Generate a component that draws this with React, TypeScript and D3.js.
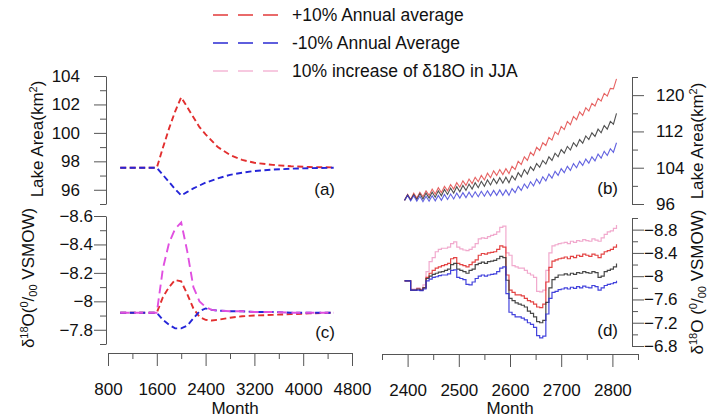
import React, { useEffect, useRef } from 'react';
import * as d3 from 'd3';

// (a) / (c): response to a perturbation, months 1000-4500
const aMonths = [1000, 1200, 1400, 1600, 1700, 1800, 1900, 2000, 2100, 2200, 2300, 2400, 2600, 2800, 3000, 3200, 3500, 3800, 4100, 4500];
const aPlus = [97.55, 97.55, 97.55, 97.55, 98.95, 100.3, 101.5, 102.5, 101.8, 101.1, 100.4, 99.9, 99.0, 98.45, 98.1, 97.9, 97.75, 97.65, 97.6, 97.57];
const aMinus = [97.55, 97.55, 97.55, 97.55, 97.05, 96.55, 96.05, 95.6, 95.85, 96.1, 96.3, 96.5, 96.8, 97.05, 97.2, 97.32, 97.42, 97.48, 97.52, 97.55];

const cMonths = [1000, 1200, 1400, 1600, 1700, 1800, 1900, 2000, 2100, 2200, 2300, 2400, 2500, 2600, 2800, 3000, 3200, 3500, 3800, 4100, 4500];
const cPlus = [-7.92, -7.92, -7.92, -7.92, -8.03, -8.10, -8.15, -8.14, -8.05, -7.95, -7.89, -7.87, -7.865, -7.87, -7.885, -7.895, -7.90, -7.905, -7.91, -7.915, -7.92];
const cMinus = [-7.92, -7.92, -7.92, -7.92, -7.87, -7.835, -7.81, -7.81, -7.83, -7.88, -7.93, -7.95, -7.94, -7.935, -7.93, -7.93, -7.925, -7.925, -7.92, -7.92, -7.92];
const cJJA = [-7.92, -7.92, -7.92, -7.92, -8.23, -8.41, -8.51, -8.555, -8.35, -8.10, -8.00, -7.96, -7.94, -7.935, -7.93, -7.93, -7.925, -7.925, -7.92, -7.92, -7.92];

// (b) / (d): one value every 6 months starting at month 2394
const rStart = 2394;
const rStep = 6;

const bPlus = [
  96.8, 98.1, 97.0, 98.4, 97.3, 98.6, 97.6, 98.9, 97.9, 99.3,
  98.2, 99.6, 98.5, 99.9, 98.9, 100.3, 99.3, 100.7, 99.7, 101.1,
  100.1, 101.5, 100.5, 101.9, 100.9, 102.3, 101.3, 102.8, 101.8, 103.3,
  102.3, 103.6, 102.5, 103.8, 102.7, 104.3, 103.6, 105.4, 104.7, 106.4,
  105.6, 107.4, 106.7, 108.5, 107.8, 109.5, 108.9, 110.7, 110.1, 111.9,
  111.3, 113.1, 112.4, 114.2, 113.5, 115.3, 114.6, 116.3, 115.5, 117.2,
  116.5, 118.2, 117.6, 119.3, 118.7, 120.4, 119.8, 121.5, 121.4, 123.6
];
const bBase = [
  96.8, 98.0, 96.9, 98.1, 97.0, 98.3, 97.1, 98.4, 97.3, 98.6,
  97.5, 98.9, 97.8, 99.2, 98.1, 99.5, 98.4, 99.8, 98.7, 100.1,
  99.0, 100.4, 99.3, 100.7, 99.6, 101.0, 99.9, 101.3, 100.2, 101.6,
  100.5, 101.8, 100.6, 101.9, 100.7, 102.2, 101.3, 102.9, 102.0, 103.6,
  102.6, 104.2, 103.4, 104.9, 104.1, 105.6, 104.8, 106.4, 105.6, 107.2,
  106.4, 108.0, 107.2, 108.7, 107.9, 109.5, 108.7, 110.2, 109.4, 111.0,
  110.2, 111.7, 110.9, 112.5, 111.7, 113.3, 112.5, 114.2, 113.6, 116.0
];
const bMinus = [
  96.8, 97.9, 96.7, 97.8, 96.6, 97.7, 96.5, 97.7, 96.6, 97.8,
  96.7, 97.9, 96.8, 98.1, 97.0, 98.2, 97.1, 98.4, 97.3, 98.5,
  97.4, 98.6, 97.5, 98.7, 97.6, 98.8, 97.7, 98.9, 97.8, 99.0,
  97.9, 99.1, 97.9, 99.1, 97.9, 99.4, 98.5, 99.9, 99.0, 100.4,
  99.5, 100.9, 100.0, 101.5, 100.5, 102.0, 101.1, 102.6, 101.7, 103.2,
  102.3, 103.8, 102.9, 104.3, 103.4, 104.9, 104.0, 105.4, 104.5, 105.9,
  105.0, 106.4, 105.5, 107.0, 106.1, 107.6, 106.7, 108.2, 107.4, 109.5
];

const dBase = [
  -7.92, -7.92, -7.76, -7.76, -7.78, -7.76, -7.80, -7.96, -8.00, -8.03,
  -8.05, -8.07, -8.08, -8.10, -8.12, -8.20, -8.22, -8.12, -8.10, -8.08,
  -8.05, -8.10, -8.12, -8.20, -8.22, -8.24, -8.22, -8.25, -8.26, -8.27,
  -8.30, -8.34, -8.32, -7.93, -7.62, -7.58, -7.54, -7.52, -7.50, -7.47,
  -7.40, -7.36, -7.30, -7.22, -7.20, -7.24, -7.55, -7.80, -7.94, -7.98,
  -8.02, -8.02, -8.04, -8.02, -8.05, -8.03, -8.06, -8.05, -8.08, -8.06,
  -8.05, -8.08, -8.06, -7.98, -8.00, -8.08, -8.10, -8.12, -8.16, -8.22
];
const dPlus = [
  -7.92, -7.92, -7.76, -7.76, -7.78, -7.76, -7.80, -7.98, -8.05, -8.10,
  -8.14, -8.16, -8.18, -8.20, -8.22, -8.30, -8.32, -8.22, -8.20, -8.18,
  -8.16, -8.20, -8.24, -8.28, -8.36, -8.39, -8.38, -8.40, -8.41, -8.42,
  -8.46, -8.52, -8.50, -8.02, -7.76, -7.72, -7.68, -7.68, -7.66, -7.62,
  -7.58, -7.56, -7.52, -7.47, -7.46, -7.52, -7.90, -8.15, -8.26, -8.28,
  -8.30, -8.31, -8.33, -8.30, -8.34, -8.32, -8.36, -8.34, -8.38, -8.36,
  -8.34, -8.38, -8.36, -8.32, -8.38, -8.42, -8.44, -8.46, -8.50, -8.55
];
const dJJA = [
  -7.92, -7.92, -7.78, -7.78, -7.80, -7.78, -7.85, -8.08, -8.25, -8.32,
  -8.42, -8.46, -8.48, -8.48, -8.50, -8.56, -8.59, -8.50, -8.47, -8.45,
  -8.44, -8.46, -8.50, -8.56, -8.64, -8.66, -8.65, -8.68, -8.70, -8.72,
  -8.76, -8.84, -8.86, -8.40, -8.36, -8.18, -8.16, -8.14, -8.14, -8.10,
  -8.05, -8.02, -7.98, -7.74, -7.73, -7.76, -8.10, -8.40, -8.52, -8.54,
  -8.56, -8.57, -8.58, -8.56, -8.60, -8.58, -8.61, -8.60, -8.63, -8.61,
  -8.60, -8.64, -8.62, -8.60, -8.66, -8.72, -8.76, -8.78, -8.82, -8.88
];
const dMinus = [
  -7.92, -7.92, -7.76, -7.76, -7.76, -7.75, -7.78, -7.92, -7.95, -7.98,
  -7.99, -8.01, -8.02, -8.02, -8.04, -8.10, -8.11, -7.98, -7.96, -7.94,
  -7.86, -7.85, -7.90, -7.96, -8.00, -8.02, -8.00, -8.02, -8.03, -8.04,
  -8.08, -8.14, -8.16, -7.70, -7.38, -7.34, -7.30, -7.30, -7.28, -7.25,
  -7.20, -7.17, -7.12, -6.98, -6.94, -6.97, -7.35, -7.62, -7.72, -7.74,
  -7.77, -7.78, -7.80, -7.78, -7.81, -7.79, -7.82, -7.80, -7.83, -7.81,
  -7.80, -7.84, -7.82, -7.76, -7.80, -7.84, -7.86, -7.87, -7.89, -7.92
];

// ticks
const aTicks = [96, 98, 100, 102, 104];
const aMinor = [95, 97, 99, 101, 103];
const cTicks = [-8.6, -8.4, -8.2, -8, -7.8];
const cMinor = [-8.5, -8.3, -8.1, -7.9, -7.7];
const bTicks = [96, 104, 112, 120];
const bMinor = [100, 108, 116, 124];
const dTicks = [-8.8, -8.4, -8, -7.6, -7.2, -6.8];
const dMinor = [-9, -8.6, -8.2, -7.8, -7.4, -7.0];
const xLeftTicks = [800, 1600, 2400, 3200, 4000, 4800];
const xLeftMinor = [1200, 2000, 2800, 3600, 4400];
const xRightTicks = [2400, 2500, 2600, 2700, 2800];
const xRightMinor = [2350, 2450, 2550, 2650, 2750, 2850];

const legendItems = [
  { label: '+10% Annual average', color: '#e23a3a' },
  { label: '-10% Annual Average', color: '#2a2ad2' },
  { label: '10% increase of \u03b418O in JJA', color: '#f5b8d6' }
];

const App = () => {
  const svgRef = useRef<SVGSVGElement>(null);

  useEffect(() => {
    const svg = d3.select(svgRef.current);
    svg.selectAll('*').remove();

    const font = "'Liberation Sans', Arial, sans-serif";
    const axisColor = '#555';
    const fs = 17;

    // scales
    const xL = d3.scaleLinear().domain([800, 4800]).range([108, 352]);
    const xR = d3.scaleLinear().domain([2350, 2850]).range([382, 638]);
    const yA = d3.scaleLinear().domain([95, 104]).range([204, 76]);
    const yC = d3.scaleLinear().domain([-8.6, -7.7]).range([216, 344]);
    const yB = d3.scaleLinear().domain([96, 124]).range([204, 77]);
    const yD = d3.scaleLinear().domain([-9, -6.8]).range([218, 346]);

    const fmt = (d: any) => String(d).replace('-', '\u2212');

    const styleAxis = (g: any) => {
      g.attr('font-family', null).attr('font-size', null);
      g.select('.domain').attr('stroke', axisColor);
      g.selectAll('.tick line').attr('stroke', axisColor);
      g.selectAll('.tick text')
        .attr('fill', '#111')
        .style('font-size', fs + 'px')
        .style('font-family', font);
    };

    const addAxis = (axis: any, minorAxis: any, tx: number, ty: number) => {
      const g = svg.append('g').attr('transform', `translate(${tx},${ty})`).call(axis);
      styleAxis(g);
      const m = svg.append('g').attr('transform', `translate(${tx},${ty})`).call(minorAxis);
      m.select('.domain').remove();
      m.selectAll('.tick line').attr('stroke', axisColor);
    };

    // y axes
    addAxis(
      d3.axisLeft(yA).tickValues(aTicks).tickSize(12).tickSizeOuter(0).tickPadding(14).tickFormat(fmt),
      d3.axisLeft(yA).tickValues(aMinor).tickSize(6).tickFormat(() => ''),
      106, 0
    );
    addAxis(
      d3.axisLeft(yC).tickValues(cTicks).tickSize(12).tickSizeOuter(0).tickPadding(1).tickFormat(fmt),
      d3.axisLeft(yC).tickValues(cMinor).tickSize(6).tickFormat(() => ''),
      106, 0
    );
    addAxis(
      d3.axisRight(yB).tickValues(bTicks).tickSize(12).tickSizeOuter(0).tickPadding(12).tickFormat(fmt),
      d3.axisRight(yB).tickValues(bMinor).tickSize(6).tickFormat(() => ''),
      632, 0
    );
    addAxis(
      d3.axisRight(yD).tickValues(dTicks).tickSize(12).tickSizeOuter(0).tickPadding(0).tickFormat(fmt),
      d3.axisRight(yD).tickValues(dMinor).tickSize(6).tickFormat(() => ''),
      632, 0
    );

    // x axes
    addAxis(
      d3.axisBottom(xL).tickValues(xLeftTicks).tickSize(13).tickSizeOuter(0).tickPadding(17).tickFormat(fmt),
      d3.axisBottom(xL).tickValues(xLeftMinor).tickSize(6).tickFormat(() => ''),
      0, 353
    );
    addAxis(
      d3.axisBottom(xR).tickValues(xRightTicks).tickSize(13).tickSizeOuter(0).tickPadding(17).tickFormat(fmt),
      d3.axisBottom(xR).tickValues(xRightMinor).tickSize(6).tickFormat(() => ''),
      0, 354
    );

    const drawLine = (
      xs: number[], ys: number[], x: any, y: any,
      color: string, width: number, dash: string | null, curve: any = d3.curveLinear, opacity = 1
    ) => {
      const pts = ys.map((v, i) => [xs[i], v] as [number, number]);
      const line = d3.line<[number, number]>().x(d => x(d[0])).y(d => y(d[1])).curve(curve);
      svg.append('path')
        .attr('d', line(pts))
        .attr('fill', 'none')
        .attr('stroke', color)
        .attr('stroke-width', width)
        .attr('stroke-dasharray', dash)
        .attr('stroke-opacity', opacity);
    };

    // (a)
    drawLine(aMonths, aPlus, xL, yA, '#e22f2f', 1.9, '6,3.5');
    drawLine(aMonths, aMinus, xL, yA, '#2525d8', 1.9, '6,3.5');

    // (c)
    drawLine(cMonths, cPlus, xL, yC, '#e22f2f', 1.9, '6,3.5');
    drawLine(cMonths, cMinus, xL, yC, '#2525d8', 1.9, '6,3.5');
    drawLine(cMonths, cJJA, xL, yC, '#e050e0', 1.9, '9,5');

    // (b)
    const rMonths = bBase.map((_, i) => rStart + i * rStep);
    drawLine(rMonths, bPlus, xR, yB, '#e24848', 1.1, null, d3.curveLinear, 0.85);
    drawLine(rMonths, bBase, xR, yB, '#333333', 1.1, null, d3.curveLinear, 0.85);
    drawLine(rMonths, bMinus, xR, yB, '#3b3bd8', 1.1, null, d3.curveLinear, 0.8);

    // (d)
    drawLine(rMonths, dJJA, xR, yD, '#f0a0c8', 1.2, null, d3.curveStepAfter, 0.9);
    drawLine(rMonths, dPlus, xR, yD, '#e03030', 1.2, null, d3.curveStepAfter, 0.9);
    drawLine(rMonths, dBase, xR, yD, '#333333', 1.2, null, d3.curveStepAfter, 0.9);
    drawLine(rMonths, dMinus, xR, yD, '#2f2fd8', 1.2, null, d3.curveStepAfter, 0.9);

    const text = (x: number, y: number, s: string, anchor = 'start') =>
      svg.append('text')
        .attr('x', x).attr('y', y)
        .attr('text-anchor', anchor)
        .style('font-family', font)
        .style('font-size', fs + 'px')
        .attr('fill', '#111')
        .text(s);

    // panel letters
    text(335, 195, '(a)', 'end');
    text(618, 194, '(b)', 'end');
    text(335, 338, '(c)', 'end');
    text(618, 336, '(d)', 'end');

    // x titles
    text(235, 414, 'Month', 'middle');
    text(510, 414, 'Month', 'middle');

    // rotated y titles
    const lakeTitle = (x: number, y: number) => {
      const t = svg.append('text')
        .attr('transform', `translate(${x},${y}) rotate(-90)`)
        .attr('text-anchor', 'middle')
        .style('font-family', font)
        .style('font-size', fs + 'px')
        .attr('fill', '#111');
      t.append('tspan').text('Lake Area(km');
      t.append('tspan').attr('dy', -6).style('font-size', '11px').text('2');
      t.append('tspan').attr('dy', 6).text(')');
    };
    const deltaTitle = (x: number, y: number, gap: string) => {
      const t = svg.append('text')
        .attr('transform', `translate(${x},${y}) rotate(-90)`)
        .attr('text-anchor', 'middle')
        .style('font-family', font)
        .style('font-size', fs + 'px')
        .attr('fill', '#111');
      t.append('tspan').text('\u03b4');
      t.append('tspan').attr('dy', -6).style('font-size', '11px').text('18');
      t.append('tspan').attr('dy', 6).text('O' + gap + '(');
      t.append('tspan').attr('dy', -6).style('font-size', '11px').text('0');
      t.append('tspan').attr('dy', 6).text('/');
      t.append('tspan').attr('dy', 3).style('font-size', '11px').text('00');
      t.append('tspan').attr('dy', -3).text(' VSMOW)');
    };
    lakeTitle(43, 139);
    deltaTitle(34, 278, '');
    lakeTitle(703, 141);
    deltaTitle(703, 282, ' ');

    // legend
    legendItems.forEach((item, i) => {
      const y = 15 + i * 28;
      svg.append('line')
        .attr('x1', 213).attr('x2', 278)
        .attr('y1', y).attr('y2', y)
        .attr('stroke', item.color)
        .attr('stroke-width', 1.6)
        .attr('stroke-dasharray', '15,10');
      svg.append('text')
        .attr('x', 292).attr('y', y + 6)
        .style('font-family', font)
        .style('font-size', '17.5px')
        .attr('fill', '#111')
        .text(item.label);
    });
  }, []);

  return (
    <svg
      ref={svgRef}
      width={708}
      height={419}
      style={{ position: 'absolute', left: 0, top: 0, background: '#fff' }}
    ></svg>
  );
};

export default App;
